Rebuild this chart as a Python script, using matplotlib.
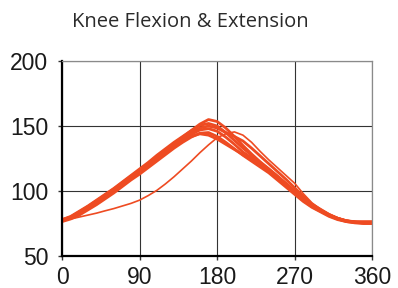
import matplotlib
matplotlib.use("Agg")
import matplotlib.pyplot as plt

# gait cycle angle (deg), every 10 degrees
angle = list(range(0, 361, 10))

# knee angle traces (one list per cycle)
cycle_1 = [77.5, 79.5, 83, 87, 91, 95.5, 100, 105, 110, 114.5, 119.5, 125, 130, 135, 139.5,
           143.5, 147, 148, 146, 141.5, 136, 130, 125.5, 120.5, 116, 110.5, 105, 99, 93.5,
           88.5, 85, 81.5, 79, 77.2, 76.2, 75.8, 75.8]
cycle_2 = [78, 80.5, 84.5, 88.5, 93, 97.5, 102, 107, 112, 117, 122, 127.5, 132.5, 137.5, 142,
           146.5, 150.5, 152, 150, 145, 139, 133, 127.5, 122, 117, 111.5, 106, 100, 94.5,
           89.5, 85.5, 82, 79, 77, 76, 75.5, 75.5]
cycle_3 = [77, 79.5, 83.5, 88, 92.5, 97, 101.5, 106.5, 111.5, 116, 121, 126.5, 131.5, 136.5, 141.5,
           146.5, 151.5, 155, 153.5, 148.5, 142, 135, 128.5, 122.5, 117, 111.5, 105.5, 100, 94,
           89, 85, 81.5, 78.5, 76.5, 75.5, 75, 75]
cycle_4 = [76.5, 78.5, 81.5, 85.5, 89.5, 94, 98.5, 103.5, 108.5, 113, 118, 123, 128, 133, 137.5,
           141.5, 144.5, 145, 142, 137.5, 132.5, 127.5, 123, 118.5, 114, 108.5, 103, 97.5, 92,
           87.5, 84, 80.5, 78, 76.5, 75.8, 75.5, 75.5]
cycle_5 = [78, 80, 83.5, 87.5, 91.5, 96, 100.5, 105.5, 110.5, 115, 120, 125, 130, 134.5, 138.5,
           142, 144, 143, 140, 136, 132, 128, 124, 119.5, 115, 109.5, 104, 98.5, 93,
           88, 84.5, 81, 78.5, 77, 76.5, 76.5, 76.5]
cycle_6 = [77.5, 80, 84, 88, 92, 96.5, 101, 106, 111, 115.5, 120.5, 126, 131, 136, 140.5,
           145, 148.5, 150, 148.5, 145, 142, 138.5, 133, 127, 121, 115, 109, 102.5, 96,
           90, 86, 82, 79, 77, 76, 75.5, 75.5]
# the slow-rising odd cycle
cycle_7 = [77.5, 78.5, 80, 81.5, 83, 84.8, 86.5, 88.5, 90.5, 93, 96.5, 100.5, 105.5, 111, 117,
           123, 129.5, 135.5, 141, 144, 145.5, 143, 137.5, 130.5, 124, 118, 112, 106, 98,
           91, 86, 82, 79.5, 77.5, 76.5, 76, 76]

main_cycles = [cycle_1, cycle_2, cycle_3, cycle_4, cycle_5, cycle_6]

x_ticks = [0, 90, 180, 270, 360]
y_ticks = [50, 100, 150, 200]

fig = plt.figure(figsize=(3.98, 2.88), dpi=100)
ax = fig.add_axes([0.156, 0.111, 0.779, 0.677])

red = "#EE4B22"
for c in main_cycles:
    ax.plot(angle, c, color=red, linewidth=2.0, solid_capstyle="round")
ax.plot(angle, cycle_7, color=red, linewidth=1.2)

ax.set_xlim(0, 360)
ax.set_ylim(50, 200)
ax.set_xticks(x_ticks)
ax.set_yticks(y_ticks)
ax.grid(True, color="#333333", linewidth=0.8)
ax.set_axisbelow(True)

for side in ["top", "right"]:
    ax.spines[side].set_color("#8a8a8a")
    ax.spines[side].set_linewidth(0.9)
for side in ["left", "bottom"]:
    ax.spines[side].set_color("black")
    ax.spines[side].set_linewidth(1.6)

ax.tick_params(axis="both", length=3, width=1, color="#333333",
               labelsize=16.5, labelcolor="#1a1a1a")
ax.tick_params(axis="y", pad=7)
ax.tick_params(axis="x", pad=4)
for lab in ax.get_xticklabels() + ax.get_yticklabels():
    lab.set_family("Liberation Sans")

fig.text(0.477, 0.924, "Knee Flexion & Extension", ha="center", va="center",
         fontsize=14.5, family="Open Sans", color="#2a2a2a")

fig.savefig("out.png", dpi=100)
